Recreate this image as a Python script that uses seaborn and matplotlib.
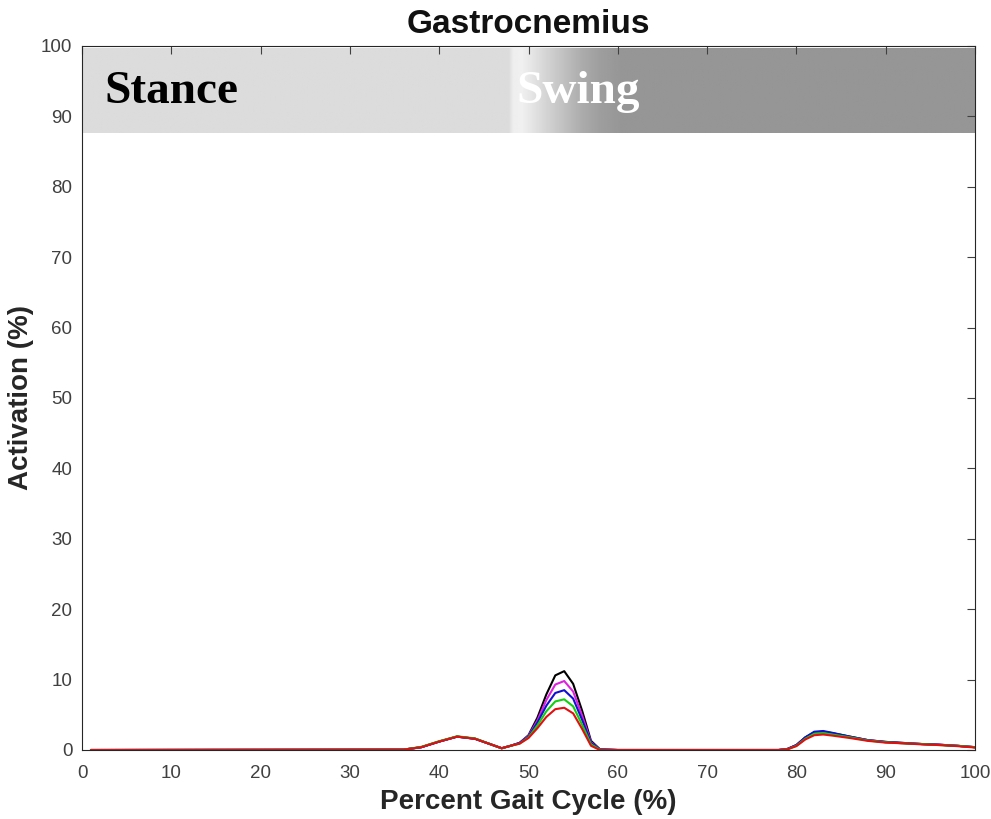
import numpy as np
import pandas as pd
import matplotlib
matplotlib.use("Agg")
import matplotlib.pyplot as plt
import seaborn as sns

# Percent gait cycle sample points (zeros between bursts are flat)
gait = [1, 36, 38, 40, 42, 44, 46, 47, 48, 49, 50, 51, 52, 53, 54, 55, 56, 57, 58, 60,
        78, 79, 80, 81, 82, 83, 84, 86, 88, 90, 92, 94, 96, 98, 100]

# Activation (%) for each trace
act_black = [0, 0.05, 0.4, 1.2, 1.9, 1.6, 0.7, 0.25, 0.6,
             1.0, 2.1, 4.6, 7.9, 10.6, 11.2, 9.4, 5.6, 1.3, 0.1, 0,
             0, 0.15, 0.7, 1.8, 2.5, 2.6, 2.4, 1.9, 1.4, 1.15, 1.0, 0.85, 0.75, 0.6, 0.4]
act_magenta = [0, 0.05, 0.4, 1.2, 1.9, 1.6, 0.7, 0.25, 0.6,
               1.0, 2.0, 4.2, 7.1, 9.3, 9.8, 8.3, 4.9, 1.1, 0.1, 0,
               0, 0.15, 0.7, 1.75, 2.45, 2.55, 2.35, 1.85, 1.4, 1.1, 0.95, 0.85, 0.75, 0.6, 0.4]
act_blue = [0, 0.05, 0.4, 1.2, 1.9, 1.6, 0.7, 0.25, 0.6,
            1.0, 1.9, 3.9, 6.3, 8.1, 8.5, 7.3, 4.3, 1.0, 0.1, 0,
            0, 0.15, 0.7, 1.8, 2.6, 2.7, 2.45, 1.9, 1.4, 1.15, 1.0, 0.85, 0.75, 0.6, 0.4]
act_green = [0, 0.05, 0.45, 1.25, 1.95, 1.65, 0.7, 0.25, 0.6,
             0.9, 1.8, 3.5, 5.5, 6.9, 7.2, 6.2, 3.6, 0.8, 0.05, 0,
             0, 0.1, 0.6, 1.6, 2.3, 2.4, 2.2, 1.8, 1.35, 1.1, 0.95, 0.85, 0.7, 0.6, 0.4]
act_red = [0, 0.05, 0.4, 1.2, 1.9, 1.6, 0.7, 0.25, 0.6,
           0.9, 1.7, 3.1, 4.7, 5.8, 6.0, 5.2, 3.0, 0.6, 0, 0,
           0, 0.1, 0.55, 1.5, 2.1, 2.2, 2.05, 1.7, 1.3, 1.05, 0.95, 0.8, 0.7, 0.55, 0.35]

trace_names = ["k", "m", "b", "g", "r"]
trace_colors = ["#000000", "#e020e0", "#1010d0", "#10d010", "#e01010"]

# Stance / swing shading band (gray level by gait percent)
band_x = [0, 47.8, 48.3, 49.3, 50.5, 52, 54, 56, 58, 60.5, 100]
band_gray = [220, 220, 238, 240, 228, 212, 192, 172, 158, 150, 150]

df = pd.DataFrame({
    "gait": gait * 5,
    "activation": act_black + act_magenta + act_blue + act_green + act_red,
    "trace": [n for n in trace_names for _ in gait],
})

sns.set_style("white")
plt.rcParams["font.family"] = ["Liberation Sans", "DejaVu Sans"]

fig = plt.figure(figsize=(9.91, 8.19), dpi=100)
ax = fig.add_axes([82 / 991, 69 / 819, 893 / 991, 704 / 819])

# shaded band at the top
xs = np.linspace(0, 100, 801)
grays = np.interp(xs, band_x, band_gray) / 255.0
img = np.tile(grays, (2, 1))
ax.imshow(img, cmap="gray", vmin=0, vmax=1, aspect="auto",
          extent=[0, 100, 87.6, 99.6], interpolation="bilinear", zorder=0)

sns.lineplot(data=df, x="gait", y="activation", hue="trace",
             palette=dict(zip(trace_names, trace_colors)),
             linewidth=1.5, legend=False, ax=ax, zorder=2)

ax.text(2.5, 93.4, "Stance", family="Liberation Serif", fontweight="bold",
        fontsize=34, color="black", va="center", ha="left")
ax.text(48.6, 93.4, "Swing", family="Liberation Serif", fontweight="bold",
        fontsize=34, color="white", va="center", ha="left")

ax.set_xlim(0, 100)
ax.set_ylim(0, 100)
ax.set_xticks(range(0, 101, 10))
ax.set_yticks(range(0, 101, 10))
ax.tick_params(direction="in", length=6, width=0.8, top=True, right=True,
               labelsize=13.5, colors="#404040")
ax.tick_params(axis="x", pad=11)
ax.tick_params(axis="y", pad=7)
for s in ax.spines.values():
    s.set_color("#262626")
    s.set_linewidth(0.8)

ax.set_title("Gastrocnemius", fontsize=24, fontweight="bold", pad=9, color="#111111")
ax.set_xlabel("Percent Gait Cycle (%)", fontsize=20, fontweight="bold",
              labelpad=5, color="#262626")
ax.set_ylabel("Activation (%)", fontsize=20, fontweight="bold",
              labelpad=5, color="#262626")

fig.savefig("out.png", dpi=100)
